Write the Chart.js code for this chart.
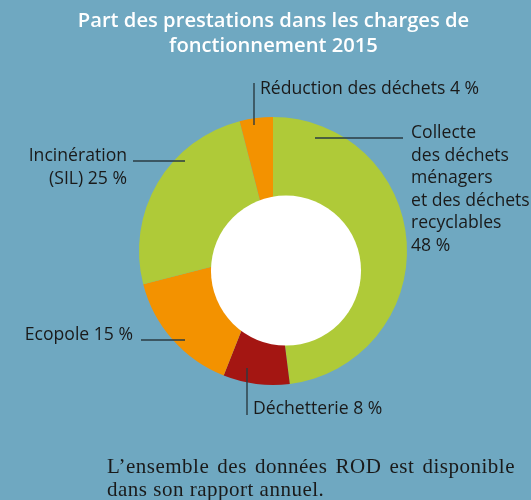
<!DOCTYPE html>
<html lang="fr">
<head>
<meta charset="utf-8">
<script src="https://cdn.jsdelivr.net/npm/chart.js@4/dist/chart.umd.min.js"></script>
<style>
  html, body { margin: 0; padding: 0; }
  body { width: 531px; height: 500px; background: #6fa8c1; position: relative; overflow: hidden; }
  #chart { position: absolute; left: 0; top: 0; }
  #title {
    position: absolute; left: 0; top: 7px; width: 547px;
    text-align: center; color: #fff;
    font: 600 20.2px "Open Sans", sans-serif; line-height: 25px;
  }
  #note {
    position: absolute; left: 107px; top: 455px; width: 408px;
    font: 21px "Liberation Serif", serif; line-height: 23px; letter-spacing: 0.5px;
    color: #1a1a1a; text-align: justify; text-align-last: left;
  }
</style>
</head>
<body>
<canvas id="chart" width="531" height="500"></canvas>
<div id="title">Part des prestations dans les charges de<br>fonctionnement 2015</div>
<div id="note">L’ensemble des données ROD est disponible dans son rapport annuel.</div>
<script>
// Données
const categories = [
  "Collecte des déchets ménagers et des déchets recyclables",
  "Déchetterie",
  "Ecopole",
  "Incinération (SIL)",
  "Réduction des déchets",
];
const shares = [48, 8, 15, 25, 4];
const sliceColors = ["#afca38", "#a41612", "#f39200", "#afca38", "#f39200"];

// texte des étiquettes (le pourcentage est ajouté à la dernière ligne)
const labelLines = [
  ["Collecte", "des déchets", "ménagers", "et des déchets", "recyclables", ""],
  ["Déchetterie"],
  ["Ecopole"],
  ["Incinération", "(SIL)"],
  ["Réduction des déchets"],
];

// position des étiquettes et des traits de rappel
const labelLayout = [
  { x: 411, y: 133, align: "left", line: [315, 138, 403, 138] },
  { x: 253, y: 409, align: "left", line: [247, 368, 247, 415] },
  { x: 133, y: 335, align: "right", line: [141, 340, 185, 340] },
  { x: 127, y: 156, align: "right", line: [133, 161, 185, 161] },
  { x: 260, y: 89, align: "left", line: [254, 83, 254, 125] },
];

function lineText(i) {
  const lines = labelLines[i].slice();
  const last = lines.length - 1;
  lines[last] = (lines[last] ? lines[last] + " " : "") + shares[i] + " %";
  return lines;
}

// trou blanc (décalé du centre comme sur l'original) + étiquettes
const decorations = {
  id: "decorations",
  afterDatasetsDraw(chart) {
    const ctx = chart.ctx;
    const arc = chart.getDatasetMeta(0).data[0];
    const r = arc.outerRadius;

    ctx.save();
    ctx.fillStyle = "#ffffff";
    ctx.beginPath();
    ctx.arc(arc.x + r * 0.097, arc.y + r * 0.146, r * 0.56, 0, Math.PI * 2);
    ctx.fill();

    ctx.strokeStyle = "#2a3b42";
    ctx.lineWidth = 1.4;
    labelLayout.forEach((l) => {
      ctx.beginPath();
      ctx.moveTo(l.line[0], l.line[1]);
      ctx.lineTo(l.line[2], l.line[3]);
      ctx.stroke();
    });

    ctx.fillStyle = "#1a1a1a";
    ctx.font = "17.6px 'Open Sans', sans-serif";
    ctx.textBaseline = "middle";
    labelLayout.forEach((l, i) => {
      ctx.textAlign = l.align;
      lineText(i).forEach((t, k) => {
        ctx.fillText(t, l.x, l.y + k * 22.5);
      });
    });
    ctx.restore();
  },
};

const ctx = document.getElementById("chart").getContext("2d");
new Chart(ctx, {
  type: "pie",
  data: {
    labels: categories,
    datasets: [
      {
        data: shares,
        backgroundColor: sliceColors,
        borderWidth: 0,
      },
    ],
  },
  options: {
    responsive: false,
    animation: false,
    layout: { padding: { left: 139, right: 124, top: 117, bottom: 115 } },
    plugins: {
      legend: { display: false },
      tooltip: { enabled: false },
    },
  },
  plugins: [decorations],
});
</script>
</body>
</html>
